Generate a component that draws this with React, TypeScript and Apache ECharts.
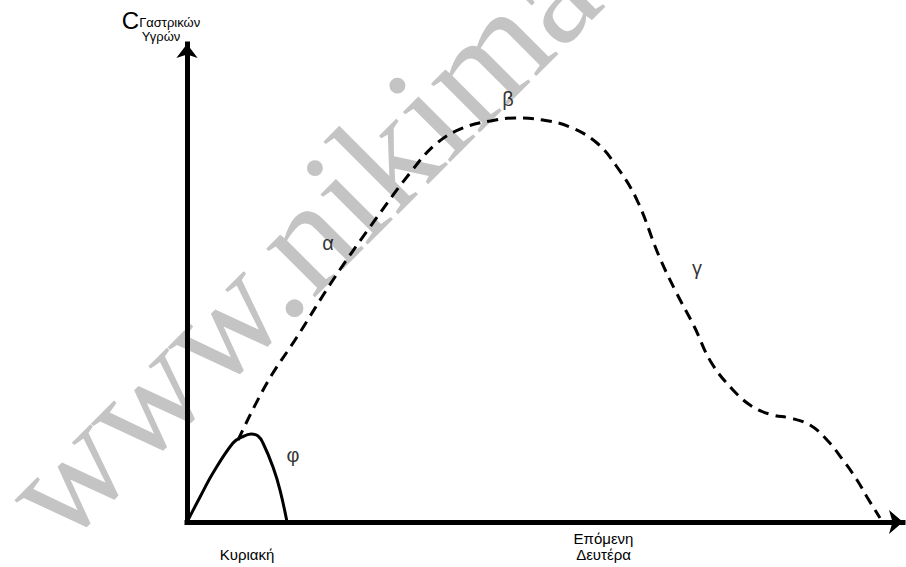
import React, { useEffect, useRef } from "react";
import * as echarts from "echarts";

// Curve φ (solid)
const phiX = [0, 1.82, 3.63, 6.42, 7.68, 8.94, 9.92, 10.61, 12.01, 12.99, 13.97];
const phiY = [0, 5.23, 10.25, 16.53, 17.78, 18.41, 17.99, 16.53, 11.51, 6.69, 0];

// Dashed curve α-β-γ
const dashX = [7.12, 11.17, 15.36, 20.39, 25.56, 31.15, 34.92, 38.55, 42.32, 45.81, 49.72, 53.49, 57.26, 60.06, 62.85, 65.92, 68.3, 70.81, 73.18, 76.26, 79.05, 81.84, 84.22, 87.01, 89.39, 91.62, 93.58, 94.97, 96.79];
const dashY = [17.15, 29.08, 38.7, 50.63, 61.72, 73.01, 79.29, 82.43, 83.89, 84.52, 84.1, 82.64, 79.29, 74.27, 67.36, 55.65, 48.12, 41.0, 33.47, 27.62, 24.06, 22.38, 21.76, 20.29, 17.15, 12.97, 8.79, 5.23, 0.84];

// Greek annotation letters
const greekNames = ["α", "β", "γ", "φ"];
const greekX = [19.69, 44.83, 71.23, 14.8];
const greekY = [58.4, 88.6, 53.14, 14.02];

// X axis day labels
const dayTicks = [8.38, 58.17];
const dayLabels = ["\nΚυριακή", "Επόμενη\nΔευτέρα"];

// Y axis name parts
const yMain = "C";
const ySub1 = "Γαστρικών";
const ySub2 = "Υγρών";

const watermark = "www.nikimaths.gr";

const SANS = '"Liberation Sans", Arial, sans-serif';

export default function App() {
  const ref = useRef<HTMLDivElement>(null);
  useEffect(() => {
    if (!ref.current) return;
    const chart = echarts.init(ref.current, null, { renderer: "svg" });
    chart.setOption({
      animation: false,
      backgroundColor: "#ffffff",
      grid: { left: 187, right: 3, top: 44, bottom: 45, containLabel: false, outerBoundsMode: "none" },
      xAxis: {
        type: "value",
        min: 0,
        max: 100,
        axisLine: {
          show: true,
          symbol: ["none", "arrow"],
          symbolSize: [18, 14],
          lineStyle: { color: "#000", width: 5, cap: "square" },
        },
        axisTick: { show: false },
        splitLine: { show: false },
        axisLabel: {
          show: true,
          customValues: dayTicks,
          showMinLabel: true,
          showMaxLabel: true,
          hideOverlap: false,
          formatter: (v: number) => {
            let best = 0;
            dayTicks.forEach((t, i) => {
              if (Math.abs(t - v) < Math.abs(dayTicks[best] - v)) best = i;
            });
            return dayLabels[best];
          },
          margin: 8,
          color: "#000",
          fontSize: 15,
          lineHeight: 16,
          fontFamily: SANS,
        },
      },
      yAxis: {
        type: "value",
        min: 0,
        max: 100,
        axisLine: {
          show: true,
          symbol: ["none", "arrow"],
          symbolSize: [16, 14],
          lineStyle: { color: "#000", width: 5, cap: "square" },
        },
        axisTick: { show: false },
        splitLine: { show: false },
        axisLabel: { show: false },
        name: `{c|${yMain}}{s|${ySub1}}\n{u|${ySub2}}`,
        nameLocation: "end",
        nameGap: 0,
        nameTextStyle: {
          padding: [0, 52, 0, 0],
          fontFamily: SANS,
          color: "#000",
          rich: {
            c: { fontSize: 24, lineHeight: 17, fontFamily: SANS, color: "#000" },
            s: { fontSize: 13, lineHeight: 9, verticalAlign: "bottom", fontFamily: SANS, color: "#000" },
            u: { fontSize: 13, lineHeight: 15, fontFamily: SANS, color: "#000" },
          },
        },
      },
      graphic: [
        {
          type: "text",
          x: 80,
          y: 566,
          rotation: Math.PI / 4,
          z: -10,
          silent: true,
          style: {
            text: watermark,
            font: '150px "Liberation Serif"',
            fill: "#c4c4c4",
            textAlign: "left",
            textVerticalAlign: "bottom",
          },
        },
      ],
      series: [
        {
          type: "line",
          data: phiX.map((x, i) => [x, phiY[i]]),
          smooth: 0.4,
          showSymbol: false,
          lineStyle: { color: "#000", width: 3, type: "solid" },
          z: 5,
        },
        {
          type: "line",
          data: dashX.map((x, i) => [x, dashY[i]]),
          smooth: 0.4,
          showSymbol: false,
          lineStyle: { color: "#000", width: 3, type: [11, 7] },
          z: 5,
        },
        {
          type: "scatter",
          data: greekNames.map((n, i) => ({ name: n, value: [greekX[i], greekY[i]] })),
          symbolSize: 1,
          itemStyle: { color: "rgba(0,0,0,0)" },
          label: {
            show: true,
            position: "top",
            distance: 0,
            offset: [0, 11],
            formatter: (p: any) => p.name,
            fontSize: 20,
            color: "#000",
            fontFamily: SANS,
          },
          z: 6,
        },
      ],
    });
    return () => chart.dispose();
  }, []);
  return <div ref={ref} style={{ position: "absolute", left: 0, top: 0, width: 906, height: 567 }} />;
}
